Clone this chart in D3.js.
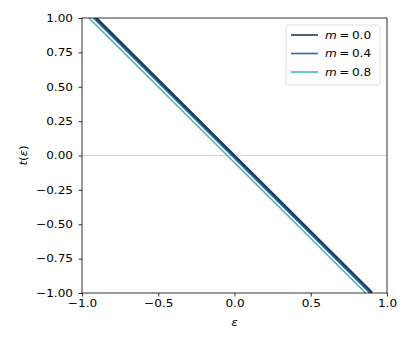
<!DOCTYPE html>
<html>
<head>
<meta charset="utf-8">
<script src="https://cdn.jsdelivr.net/npm/d3@7"></script>
<style>
  body { margin: 0; background: #fff; }
  text { font-family: "DejaVu Sans", sans-serif; }
</style>
</head>
<body>
<div id="chart"></div>
<script>
// series: endpoints of each t(eps) line
var mValues = [0.0, 0.4, 0.8];
var epsM00 = [-0.91, 0.90];
var tM00 = [1.0, -1.0];
var epsM04 = [-0.925, 0.888];
var tM04 = [1.0, -1.0];
var epsM08 = [-0.955, 0.86];
var tM08 = [1.0, -1.0];
var xTicks = [-1.0, -0.5, 0.0, 0.5, 1.0];
var yTicks = [-1.0, -0.75, -0.5, -0.25, 0.0, 0.25, 0.5, 0.75, 1.0];

var W = 415, H = 346;
var margin = {top: 18, right: 28, bottom: 53, left: 82};
var width = W - margin.left - margin.right,
    height = H - margin.top - margin.bottom;
var fs = "10.5px", sx = 1.15; // text in the picture is slightly wide

var svg = d3.select("#chart").append("svg")
  .attr("width", W).attr("height", H);
var g = svg.append("g").attr("transform", "translate(" + margin.left + "," + margin.top + ")");

var x = d3.scaleLinear().domain([-1, 1]).range([0, width]);
var y = d3.scaleLinear().domain([-1, 1]).range([height, 0]);

g.append("defs").append("clipPath").attr("id", "clip")
  .append("rect").attr("width", width).attr("height", height);

// zero line
g.append("line")
  .attr("x1", 0).attr("x2", width)
  .attr("y1", y(0)).attr("y2", y(0))
  .attr("stroke", "#cccccc").attr("stroke-width", 0.8);

var series = [
  {m: mValues[0], eps: epsM00, t: tM00, color: "#1c3d62", w: 3.2},
  {m: mValues[1], eps: epsM04, t: tM04, color: "#2b6ca8", w: 1.5},
  {m: mValues[2], eps: epsM08, t: tM08, color: "#40b9ad", w: 1.5}
];

var line = d3.line()
  .x(function(d) { return x(d[0]); })
  .y(function(d) { return y(d[1]); });

var lines = g.append("g").attr("clip-path", "url(#clip)");
series.forEach(function(s) {
  lines.append("path")
    .datum(d3.zip(s.eps, s.t))
    .attr("fill", "none")
    .attr("stroke", s.color)
    .attr("stroke-width", s.w)
    .attr("d", line);
});

// axes
var xAxis = g.append("g")
  .attr("transform", "translate(0," + height + ")")
  .call(d3.axisBottom(x).tickValues(xTicks).tickSize(3.5).tickPadding(3.5)
    .tickFormat(function(d) { return d3.format(".1f")(d).replace("-", "\u2212"); }));
var yAxis = g.append("g")
  .call(d3.axisLeft(y).tickValues(yTicks).tickSize(3.5).tickPadding(3.5)
    .tickFormat(function(d) { return d3.format(".2f")(d).replace("-", "\u2212"); }));
[xAxis, yAxis].forEach(function(a) {
  a.selectAll("text").style("font-size", fs).attr("fill", "#000");
  a.selectAll("line").attr("stroke", "#000").attr("stroke-width", 0.8);
  a.select(".domain").remove();
});
xAxis.selectAll("text").attr("transform", "scale(" + sx + ",1)");
yAxis.selectAll("text").attr("x", -9 / sx).attr("transform", "scale(" + sx + ",1)");

// frame
g.append("rect")
  .attr("width", width).attr("height", height)
  .attr("fill", "none").attr("stroke", "#000").attr("stroke-width", 0.8);

// axis labels
svg.append("text")
  .attr("transform", "translate(" + (margin.left + width / 2) + "," + (margin.top + height + 33) + ") scale(" + sx + ",1)")
  .attr("text-anchor", "middle").style("font-size", fs).style("font-style", "italic")
  .text("\u03b5");
svg.append("text")
  .attr("transform", "translate(" + 27 + "," + (margin.top + height / 2) + ") rotate(-90) scale(1.12,1.05)")
  .attr("text-anchor", "middle").style("font-size", fs)
  .html('<tspan font-style="italic">t</tspan>(<tspan font-style="italic">\u03b5</tspan>)');

// legend
var leg = g.append("g").attr("transform", "translate(" + (width - 101) + ",7)");
leg.append("rect")
  .attr("width", 94).attr("height", 60).attr("rx", 2)
  .attr("fill", "#fff").attr("fill-opacity", 0.8)
  .attr("stroke", "#d8d8d8").attr("stroke-width", 0.8);
series.forEach(function(s, i) {
  var row = leg.append("g").attr("transform", "translate(0," + (10 + i * 18.5) + ")");
  row.append("line").attr("x1", 5).attr("x2", 32)
    .attr("stroke", s.color).attr("stroke-width", 1.6);
  var t = row.append("text")
    .attr("transform", "translate(39,3.5) scale(" + sx + ",1)")
    .style("font-size", fs);
  t.append("tspan").style("font-style", "italic").text("m");
  t.append("tspan").attr("dx", 2.2).text("=");
  t.append("tspan").attr("dx", 2.2).text(d3.format(".1f")(s.m));
});
</script>
</body>
</html>
